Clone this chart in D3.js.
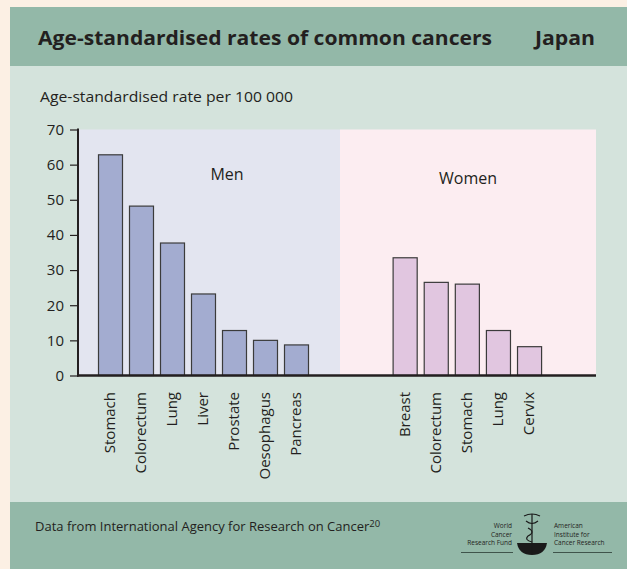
<!DOCTYPE html>
<html>
<head>
<meta charset="utf-8">
<script src="https://cdn.jsdelivr.net/npm/d3@7"></script>
<style>
  html, body { margin: 0; padding: 0; background: #fcf0e4; }
  svg { display: block; }
  text { font-family: "Open Sans", "DejaVu Sans", sans-serif; fill: #231f20; }
</style>
</head>
<body>
<svg id="chart" width="627" height="569"></svg>
<script>
// Age-standardised incidence rates per 100 000, Japan
const menCancers = ["Stomach", "Colorectum", "Lung", "Liver", "Prostate", "Oesophagus", "Pancreas"];
const menRates = [62.8, 48.2, 37.7, 23.2, 12.8, 10.0, 8.7];
const womenCancers = ["Breast", "Colorectum", "Stomach", "Lung", "Cervix"];
const womenRates = [33.5, 26.5, 26.0, 12.8, 8.2];
const yTicks = [0, 10, 20, 30, 40, 50, 60, 70];

const svg = d3.select("#chart");

// Panel backgrounds
svg.append("rect").attr("x", 10).attr("y", 7).attr("width", 617).attr("height", 562).attr("fill", "#d4e3dc");
svg.append("rect").attr("x", 10).attr("y", 7).attr("width", 617).attr("height", 59).attr("fill", "#93b8a8");
svg.append("rect").attr("x", 10).attr("y", 502).attr("width", 617).attr("height", 67).attr("fill", "#93b8a8");

// Header
function fitText(sel, width) {
  const w = sel.node().getComputedTextLength();
  if (w > 0) sel.attr("textLength", width).attr("lengthAdjust", "spacingAndGlyphs");
  return sel;
}
fitText(svg.append("text").attr("x", 38).attr("y", 45)
  .attr("font-size", 19).attr("font-weight", 700)
  .text("Age-standardised rates of common cancers"), 454);
fitText(svg.append("text").attr("x", 535).attr("y", 45)
  .attr("font-size", 19).attr("font-weight", 700)
  .text("Japan"), 60);

// Axis title
fitText(svg.append("text").attr("x", 40).attr("y", 102)
  .attr("font-size", 14)
  .text("Age-standardised rate per 100 000"), 253);

// Scales
const y = d3.scaleLinear().domain([0, 70]).range([375.5, 129.5]);
const xMen = d3.scaleBand().domain(menCancers).range([95, 312]).paddingInner(0.226).paddingOuter(0.113);
const xWomen = d3.scaleBand().domain(womenCancers).range([389.6, 545.1]).paddingInner(0.226).paddingOuter(0.113);

const plotLeft = 78, plotMid = 340, plotRight = 596;

// Group backgrounds
svg.append("rect").attr("x", plotLeft).attr("y", y(70)).attr("width", plotMid - plotLeft)
  .attr("height", y(0) - y(70)).attr("fill", "#e3e5f0");
svg.append("rect").attr("x", plotMid).attr("y", y(70)).attr("width", plotRight - plotMid)
  .attr("height", y(0) - y(70)).attr("fill", "#fcedf1");

// Group labels
svg.append("text").attr("x", 227).attr("y", 180).attr("text-anchor", "middle")
  .attr("font-size", 16).text("Men");
svg.append("text").attr("x", 468).attr("y", 184).attr("text-anchor", "middle")
  .attr("font-size", 16).text("Women");

// Bars
function drawBars(names, values, x, fill) {
  const data = names.map((n, i) => ({ name: n, value: values[i] }));
  svg.append("g").selectAll("rect").data(data).join("rect")
    .attr("x", d => x(d.name))
    .attr("y", d => y(d.value))
    .attr("width", x.bandwidth())
    .attr("height", d => y(0) - y(d.value))
    .attr("fill", fill)
    .attr("stroke", "#3b3b3b")
    .attr("stroke-width", 1.2);

  svg.append("g").selectAll("text").data(data).join("text")
    .attr("transform", d => `translate(${x(d.name) + x.bandwidth() / 2 + 4.5},392) rotate(-90)`)
    .attr("text-anchor", "end")
    .attr("font-size", 15)
    .text(d => d.name);
}
drawBars(menCancers, menRates, xMen, "#a3acd0");
drawBars(womenCancers, womenRates, xWomen, "#e1c6e0");

// Y axis
const yAxis = d3.axisLeft(y).tickValues(yTicks).tickSize(8).tickPadding(6);
const gy = svg.append("g").attr("transform", `translate(${plotLeft},0)`).call(yAxis);
gy.select(".domain").remove();
gy.selectAll(".tick line").attr("stroke", "#231f20").attr("stroke-width", 1.2);
gy.selectAll(".tick text").attr("font-size", 15).attr("font-family", "'Open Sans', sans-serif").attr("fill", "#231f20");
svg.append("line").attr("x1", plotLeft).attr("x2", plotLeft).attr("y1", y(70) - 1).attr("y2", y(0) + 1)
  .attr("stroke", "#231f20").attr("stroke-width", 2);
svg.append("line").attr("x1", plotLeft - 1).attr("x2", plotRight).attr("y1", y(0)).attr("y2", y(0))
  .attr("stroke", "#231f20").attr("stroke-width", 2.5);

// Footer
const src = svg.append("text").attr("x", 35).attr("y", 531).attr("font-size", 13);
src.append("tspan").text("Data from International Agency for Research on Cancer");
src.append("tspan").attr("font-size", 9.5).attr("dy", -4).text("20");

// Organisation marks
const logo = svg.append("g").attr("font-size", 6.5);
["World", "Cancer", "Research Fund"].forEach((t, i) => {
  logo.append("text").attr("x", 512).attr("y", 528 + i * 8.5).attr("text-anchor", "end")
    .attr("fill", "#2a3a33").text(t);
});
["American", "Institute for", "Cancer Research"].forEach((t, i) => {
  logo.append("text").attr("x", 554).attr("y", 528 + i * 8.5)
    .attr("fill", "#2a3a33").text(t);
});
logo.append("line").attr("x1", 461).attr("x2", 513).attr("y1", 552.5).attr("y2", 552.5)
  .attr("stroke", "#2a3a33").attr("stroke-width", 0.8);
logo.append("line").attr("x1", 553).attr("x2", 612).attr("y1", 552.5).attr("y2", 552.5)
  .attr("stroke", "#2a3a33").attr("stroke-width", 0.8);
// bowl
logo.append("path").attr("d", "M517,543 L547,543 Q545,555 532,555 Q519,555 517,543 Z").attr("fill", "#1a1a1a");
// staff with serpent
logo.append("line").attr("x1", 532).attr("x2", 532).attr("y1", 514).attr("y2", 554)
  .attr("stroke", "#1a1a1a").attr("stroke-width", 1.2);
logo.append("path")
  .attr("d", "M524,516 Q532,512 540,516 M526,521 Q532,526 538,521 M528,528 Q536,532 528,536 Q524,540 532,542")
  .attr("fill", "none").attr("stroke", "#1a1a1a").attr("stroke-width", 1.1);
</script>
</body>
</html>
